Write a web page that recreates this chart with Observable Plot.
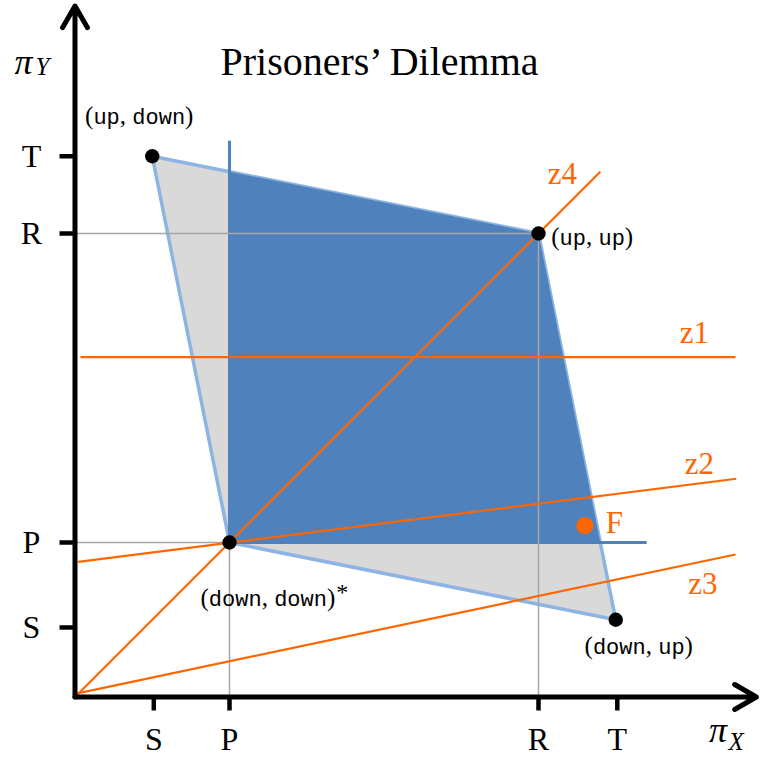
<!DOCTYPE html>
<html>
<head>
<meta charset="utf-8">
<script src="https://cdn.jsdelivr.net/npm/d3@7"></script>
<script src="https://cdn.jsdelivr.net/npm/@observablehq/plot@0.6"></script>
<style>
  body { margin: 0; background: #ffffff; }
  #chart svg { display: block; }
</style>
</head>
<body>
<div id="chart"></div>
<script>
// ---------------- data ----------------
const chartTitle = "Prisoners’ Dilemma";

// payoff tick labels and where the ticks sit on each axis
const payoffNames = ["S", "P", "R", "T"];
const xTickValues = [1.02, 2, 6, 7.02];
const yTickValues = [0.9, 2, 6, 7];

// the four outcomes (payoff of X, payoff of Y)
const outcomeNames = ["(up, down)", "(up, up)", "(down, up)", "(down, down)*"];
const outcomeX = [1, 6, 7, 2];
const outcomeY = [7, 6, 1, 2];

// individually rational, feasible region (upper right of the punishment point)
const regionX = [2, 6, 6.8, 2];
const regionY = [6.8, 6, 2, 2];

// bounds of the rational region (blue rules)
const boundX1 = [2, 2];
const boundY1 = [2, 2];
const boundX2 = [2, 7.4];
const boundY2 = [7.2, 2];

// grey guides from the axes to R and P
const guideX1 = [0, 6, 0, 2];
const guideY1 = [6, 6, 2, 2];
const guideX2 = [6, 6, 2, 2];
const guideY2 = [6, 0, 2, 0];

// orange lines z1..z4
const lineNames = ["z1", "z2", "z3", "z4"];
const lineX1 = [0.07, 0.04, 0, 0];
const lineY1 = [4.4, 1.75, 0.04, 0];
const lineX2 = [8.55, 8.56, 8.55, 6.8];
const lineY2 = [4.4, 2.825, 1.845, 6.8];

// point F
const focalNames = ["F"];
const focalX = [6.6];
const focalY = [2.22];

// axis arrows (ends in data units)
const axisEndX = [8.82, 0];
const axisEndY = [0, 8.945];

// ---------------- tables ----------------
const outcomes = outcomeNames.map((name, i) => ({name, x: outcomeX[i], y: outcomeY[i]}));
const hull = [...outcomes, outcomes[0]];
const region = regionX.map((x, i) => ({x, y: regionY[i]}));
const bounds = boundX1.map((x1, i) => ({x1, y1: boundY1[i], x2: boundX2[i], y2: boundY2[i]}));
const guides = guideX1.map((x1, i) => ({x1, y1: guideY1[i], x2: guideX2[i], y2: guideY2[i]}));
const zLines = lineNames.map((name, i) => ({name, x1: lineX1[i], y1: lineY1[i], x2: lineX2[i], y2: lineY2[i]}));
const focal = focalNames.map((name, i) => ({name, x: focalX[i], y: focalY[i]}));
const axesArrows = axisEndX.map((x2, i) => ({x1: 0, y1: 0, x2, y2: axisEndY[i]}));
const xTickLabel = new Map(xTickValues.map((v, i) => [v, payoffNames[i]]));
const yTickLabel = new Map(yTickValues.map((v, i) => [v, payoffNames[i]]));

// ---------------- styles ----------------
const SERIF = "'Liberation Serif', 'Times New Roman', serif";
const MONO = "'Liberation Mono', 'DejaVu Sans Mono', monospace";
const ORANGE = "#ff6600";
const BLUE = "#4f81bd";
const LIGHTBLUE = "#8db4e2";
const GREYFILL = "#d9d9d9";
const GUIDE = "#a6a6a6";

const unit = 77.25;
const W = 760, H = 763;
const mLeft = 74.5, mBottom = 66.5;
const xMax = 8.85, yMax = 9.0;
const mRight = W - mLeft - xMax * unit;
const mTop = H - mBottom - yMax * unit;

const outcomeOffsets = [
  {dx: -13, dy: -39.5, textAnchor: "middle"},
  {dx: 12.7, dy: 3.5, textAnchor: "start"},
  {dx: 23, dy: 27, textAnchor: "middle"},
  {dx: -29, dy: 56.3, textAnchor: "start"}
];
const lineLabelOffsets = [
  {dx: -41, dy: -24.2},
  {dx: -37, dy: -14.9},
  {dx: -32.5, dy: 29.4},
  {dx: -38, dy: 2.2}
];

const marks = [
  Plot.line(hull, {x: "x", y: "y", fill: GREYFILL, stroke: LIGHTBLUE, strokeWidth: 3.5, strokeLinejoin: "round"}),
  Plot.line([...region, region[0]], {x: "x", y: "y", fill: BLUE, stroke: "none"}),
  Plot.link(bounds, {x1: "x1", y1: "y1", x2: "x2", y2: "y2", stroke: BLUE, strokeWidth: 3}),
  Plot.link(guides, {x1: "x1", y1: "y1", x2: "x2", y2: "y2", stroke: GUIDE, strokeWidth: 1.5}),
  Plot.link(zLines, {x1: "x1", y1: "y1", x2: "x2", y2: "y2", stroke: ORANGE, strokeWidth: 2.2}),
  Plot.arrow(axesArrows, {x1: "x1", y1: "y1", x2: "x2", y2: "y2", stroke: "black", strokeWidth: 5, headLength: 7.5, headAngle: 60}),
  Plot.axisX({
    ticks: xTickValues, tickSize: 14, tickPadding: 16.5, strokeWidth: 4.5, stroke: "black",
    tickFormat: d => xTickLabel.get(d), fontSize: 32, fontFamily: SERIF, fill: "black", label: null
  }),
  Plot.axisY({
    ticks: yTickValues, tickSize: 15, tickPadding: 28.5, strokeWidth: 4.5, stroke: "black",
    textAnchor: "middle", tickFormat: d => yTickLabel.get(d), fontSize: 32, fontFamily: SERIF, fill: "black", label: null
  }),
  Plot.dot(outcomes, {x: "x", y: "y", r: 7.2, fill: "black", stroke: "none"}),
  Plot.dot(focal, {x: "x", y: "y", r: 8.6, fill: ORANGE, stroke: "none"}),
  Plot.text(focal, {x: "x", y: "y", text: "name", dx: 21, dy: -2.9, textAnchor: "start", fontSize: 31, fontFamily: SERIF, fill: ORANGE}),
  ...outcomes.map((o, i) => Plot.text([o], {
    x: "x", y: "y", text: "name", ...outcomeOffsets[i], fontSize: 24, fontFamily: SERIF, fill: "black"
  })),
  ...zLines.map((z, i) => Plot.text([z], {
    x: "x2", y: "y2", text: "name", ...lineLabelOffsets[i], textAnchor: "middle", fontSize: 31, fontFamily: SERIF, fill: ORANGE
  })),
  Plot.text([chartTitle], {frameAnchor: "top-left", text: d => d, dx: 379 - mLeft, dy: 59 - 0.32 * 40 - mTop, textAnchor: "middle", fontSize: 40, fontFamily: SERIF, fill: "black"}),
  Plot.text(["π"], {frameAnchor: "top-left", text: d => d, dx: 23 - mLeft, dy: 59 - 0.32 * 36 - mTop, textAnchor: "middle", fontSize: 36, fontStyle: "italic", fontFamily: SERIF, fill: "black"}),
  Plot.text(["Y"], {frameAnchor: "top-left", text: d => d, dx: 35 - mLeft, dy: 64.5 - 0.32 * 25 - mTop, textAnchor: "start", fontSize: 25, fontStyle: "italic", fontFamily: SERIF, fill: "black"}),
  Plot.text(["π"], {frameAnchor: "bottom-right", text: d => d, dx: 717.5 - (W - mRight), dy: 753 - 0.32 * 36 - (H - mBottom), textAnchor: "middle", fontSize: 36, fontStyle: "italic", fontFamily: SERIF, fill: "black"}),
  Plot.text(["X"], {frameAnchor: "bottom-right", text: d => d, dx: 728 - (W - mRight), dy: 757 - 0.32 * 25 - (H - mBottom), textAnchor: "start", fontSize: 25, fontStyle: "italic", fontFamily: SERIF, fill: "black"})
];

const chart = Plot.plot({
  width: W,
  height: H,
  marginLeft: mLeft,
  marginRight: mRight,
  marginTop: mTop,
  marginBottom: mBottom,
  x: {domain: [0, xMax]},
  y: {domain: [0, yMax]},
  style: {fontFamily: SERIF, background: "#ffffff", color: "black", overflow: "visible"},
  marks
});

// typewriter words inside outcome labels, serif punctuation
d3.select(chart).selectAll("text")
  .filter(function () { return outcomeNames.includes(this.textContent); })
  .each(function () {
    const s = this.textContent;
    const sel = d3.select(this);
    sel.text(null);
    sel.style("white-space", "pre");
    const tokens = s.match(/[a-z]+|\*|[^a-z*]+/g) || [];
    tokens.forEach(tok => {
      const ts = sel.append("tspan").text(tok);
      if (/^[a-z]+$/.test(tok)) {
        ts.style("font-family", MONO).style("font-size", "22px");
      } else if (tok === "*") {
        ts.style("font-family", SERIF).style("font-size", "24px").attr("dy", -6).attr("dx", 1);
      } else {
        ts.style("font-family", SERIF).style("font-size", "25px");
      }
    });
  });

document.getElementById("chart").appendChild(chart);
</script>
</body>
</html>
